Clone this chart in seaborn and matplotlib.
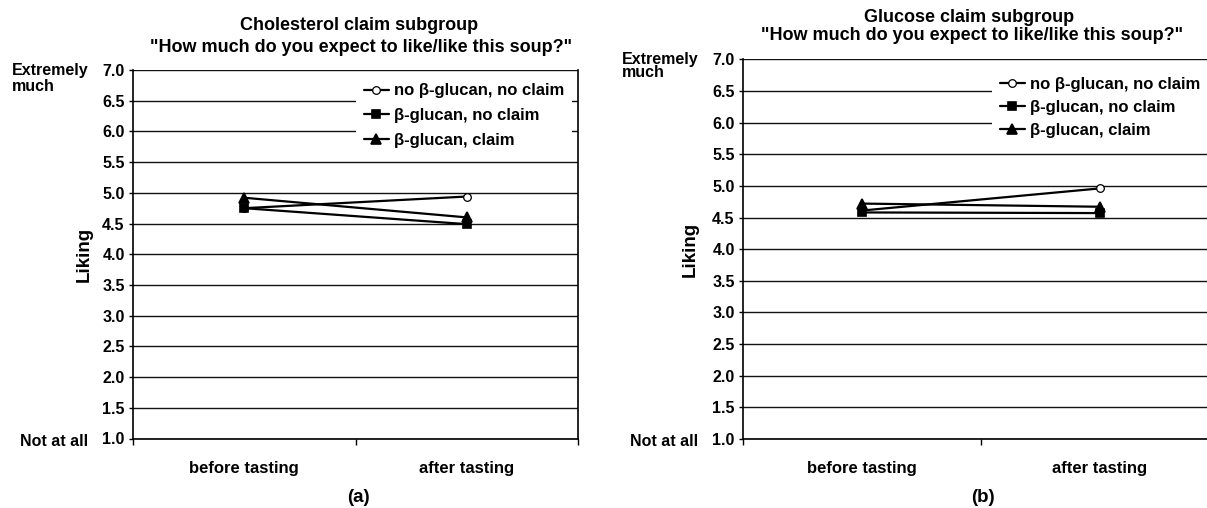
import numpy as np
import pandas as pd
import matplotlib
matplotlib.use("Agg")
import matplotlib.pyplot as plt
import seaborn as sns

# ---- data -------------------------------------------------------------
stages = ["before tasting", "after tasting"]
groups = ["no β-glucan, no claim", "β-glucan, no claim", "β-glucan, claim"]

chol_no_bg_no_claim = [4.75, 4.94]
chol_bg_no_claim = [4.75, 4.49]
chol_bg_claim = [4.92, 4.60]

gluc_no_bg_no_claim = [4.61, 4.96]
gluc_bg_no_claim = [4.58, 4.57]
gluc_bg_claim = [4.72, 4.67]

y_ticks = [1.0, 1.5, 2.0, 2.5, 3.0, 3.5, 4.0, 4.5, 5.0, 5.5, 6.0, 6.5, 7.0]
titles_a = ["Cholesterol claim subgroup", '"How much do you expect to like/like this soup?"']
titles_b = ["Glucose claim subgroup", '"How much do you expect to like/like this soup?"']
panel_tags = ["(a)", "(b)"]


def frame(series):
    rows = []
    for g, vals in zip(groups, series):
        for s, v in zip(stages, vals):
            rows.append({"stage": s, "group": g, "liking": v})
    return pd.DataFrame(rows)


df_a = frame([chol_no_bg_no_claim, chol_bg_no_claim, chol_bg_claim])
df_b = frame([gluc_no_bg_no_claim, gluc_bg_no_claim, gluc_bg_claim])

# ---- style ------------------------------------------------------------
sns.set_theme(style="white")
plt.rcParams["font.family"] = ["Liberation Sans", "DejaVu Sans"]
plt.rcParams["font.weight"] = "bold"
plt.rcParams["axes.labelweight"] = "bold"
for key in ["text.color", "axes.labelcolor", "xtick.color", "ytick.color"]:
    plt.rcParams[key] = "black"

W, H = 1207, 508
fig = plt.figure(figsize=(W / 100, H / 100), dpi=100)
fig.patch.set_facecolor("white")


def fx(px):
    return px / W


def fy(py):
    return 1 - py / H


def draw_panel(ax, df, titles, title_y, title_x, tag, tag_x,
               legend_xy, label_x, much_gap, row_gap):
    sns.pointplot(data=df, x="stage", y="liking", hue="group",
                  order=stages, hue_order=groups,
                  palette=["black"] * 3, markers=["o", "s", "^"],
                  linestyles="-", errorbar=None, legend=False, ax=ax,
                  linewidth=1.6)
    lines = ax.lines[:3]
    sizes = [5.5, 6.0, 7.0]
    for ln, ms in zip(lines, sizes):
        ln.set_markersize(ms)
        ln.set_color("black")
        ln.set_markeredgecolor("black")
        ln.set_zorder(3)
    lines[0].set_markerfacecolor("white")
    lines[0].set_markeredgewidth(0.9)

    ax.set_xlim(-0.5, 1.5)
    ax.set_ylim(1.0, 7.0)
    ax.set_yticks(y_ticks)
    ax.set_yticklabels([f"{t:.1f}" for t in y_ticks])
    ax.yaxis.grid(True, color="#111111", linewidth=1.0)
    ax.xaxis.grid(False)
    ax.set_axisbelow(True)

    ax.set_xticks([0, 1])
    ax.set_xticklabels(stages)
    ax.set_xticks([-0.5, 0.5, 1.5], minor=True)
    ax.tick_params(axis="x", which="major", length=0, pad=16,
                   labelsize=12, colors="black")
    ax.tick_params(axis="x", which="minor", length=4, width=1.0,
                   color="black", direction="out", bottom=True)
    ax.tick_params(axis="y", length=3, width=1.0, color="black",
                   labelcolor="black", direction="out", left=True, pad=3,
                   labelsize=11.5)
    for lab in ax.get_xticklabels() + ax.get_yticklabels():
        lab.set_fontweight("bold")

    for side in ["left", "bottom", "right"]:
        ax.spines[side].set_color("black")
        ax.spines[side].set_linewidth(1.2)
    ax.spines["top"].set_visible(False)

    ax.set_xlabel("")
    ax.set_ylabel("Liking", fontsize=13.5, fontweight="bold", color="black")
    ax.yaxis.set_label_coords(label_x, 0.5)

    # scale end descriptors beside the 7.0 and 1.0 ticks
    ax.annotate("Extremely", xy=(0, 7.0), xycoords=("axes fraction", "data"),
                xytext=(-87, 0), textcoords="offset points",
                ha="left", va="center", fontsize=11.5, fontweight="bold")
    ax.annotate("much", xy=(0, 7.0), xycoords=("axes fraction", "data"),
                xytext=(-87, -much_gap), textcoords="offset points",
                ha="left", va="center", fontsize=11.5, fontweight="bold")
    ax.annotate("Not at all", xy=(0, 1.0), xycoords=("axes fraction", "data"),
                xytext=(-81, -2), textcoords="offset points",
                ha="left", va="center", fontsize=11.5, fontweight="bold")

    leg = ax.legend(handles=lines, labels=groups, loc="upper left",
                    bbox_to_anchor=(fx(legend_xy[0]), fy(legend_xy[1])),
                    bbox_transform=fig.transFigure,
                    prop={"weight": "bold", "size": 12},
                    handlelength=1.5, handletextpad=0.35,
                    labelspacing=row_gap,
                    borderpad=0.45, borderaxespad=0, frameon=True,
                    fancybox=False, framealpha=1.0)
    leg.get_frame().set_facecolor("white")
    leg.get_frame().set_edgecolor("none")
    leg.set_zorder(5)

    fig.text(fx(title_x[0]), fy(title_y[0]), titles[0], ha="center",
             va="center", fontsize=13, fontweight="bold")
    fig.text(fx(title_x[1]), fy(title_y[1]), titles[1], ha="center",
             va="center", fontsize=13, fontweight="bold")
    fig.text(fx(tag_x), fy(498), tag, ha="center", va="center",
             fontsize=13.5, fontweight="bold")


ax_a = fig.add_axes([fx(133), fy(438.5), (578 - 133) / W, (438.5 - 70) / H])
ax_b = fig.add_axes([fx(743), fy(439), (1219 - 743) / W, (439 - 59.3) / H])

draw_panel(ax_a, df_a, titles_a, (25, 47), (359, 361), panel_tags[0], 358,
           (356, 76), -40 / 445, 12, 0.58)
draw_panel(ax_b, df_b, titles_b, (18, 35), (969, 972), panel_tags[1], 983,
           (992, 69), -44 / 476, 9.5, 0.5)

fig.savefig("out.png", dpi=100, facecolor="white")
